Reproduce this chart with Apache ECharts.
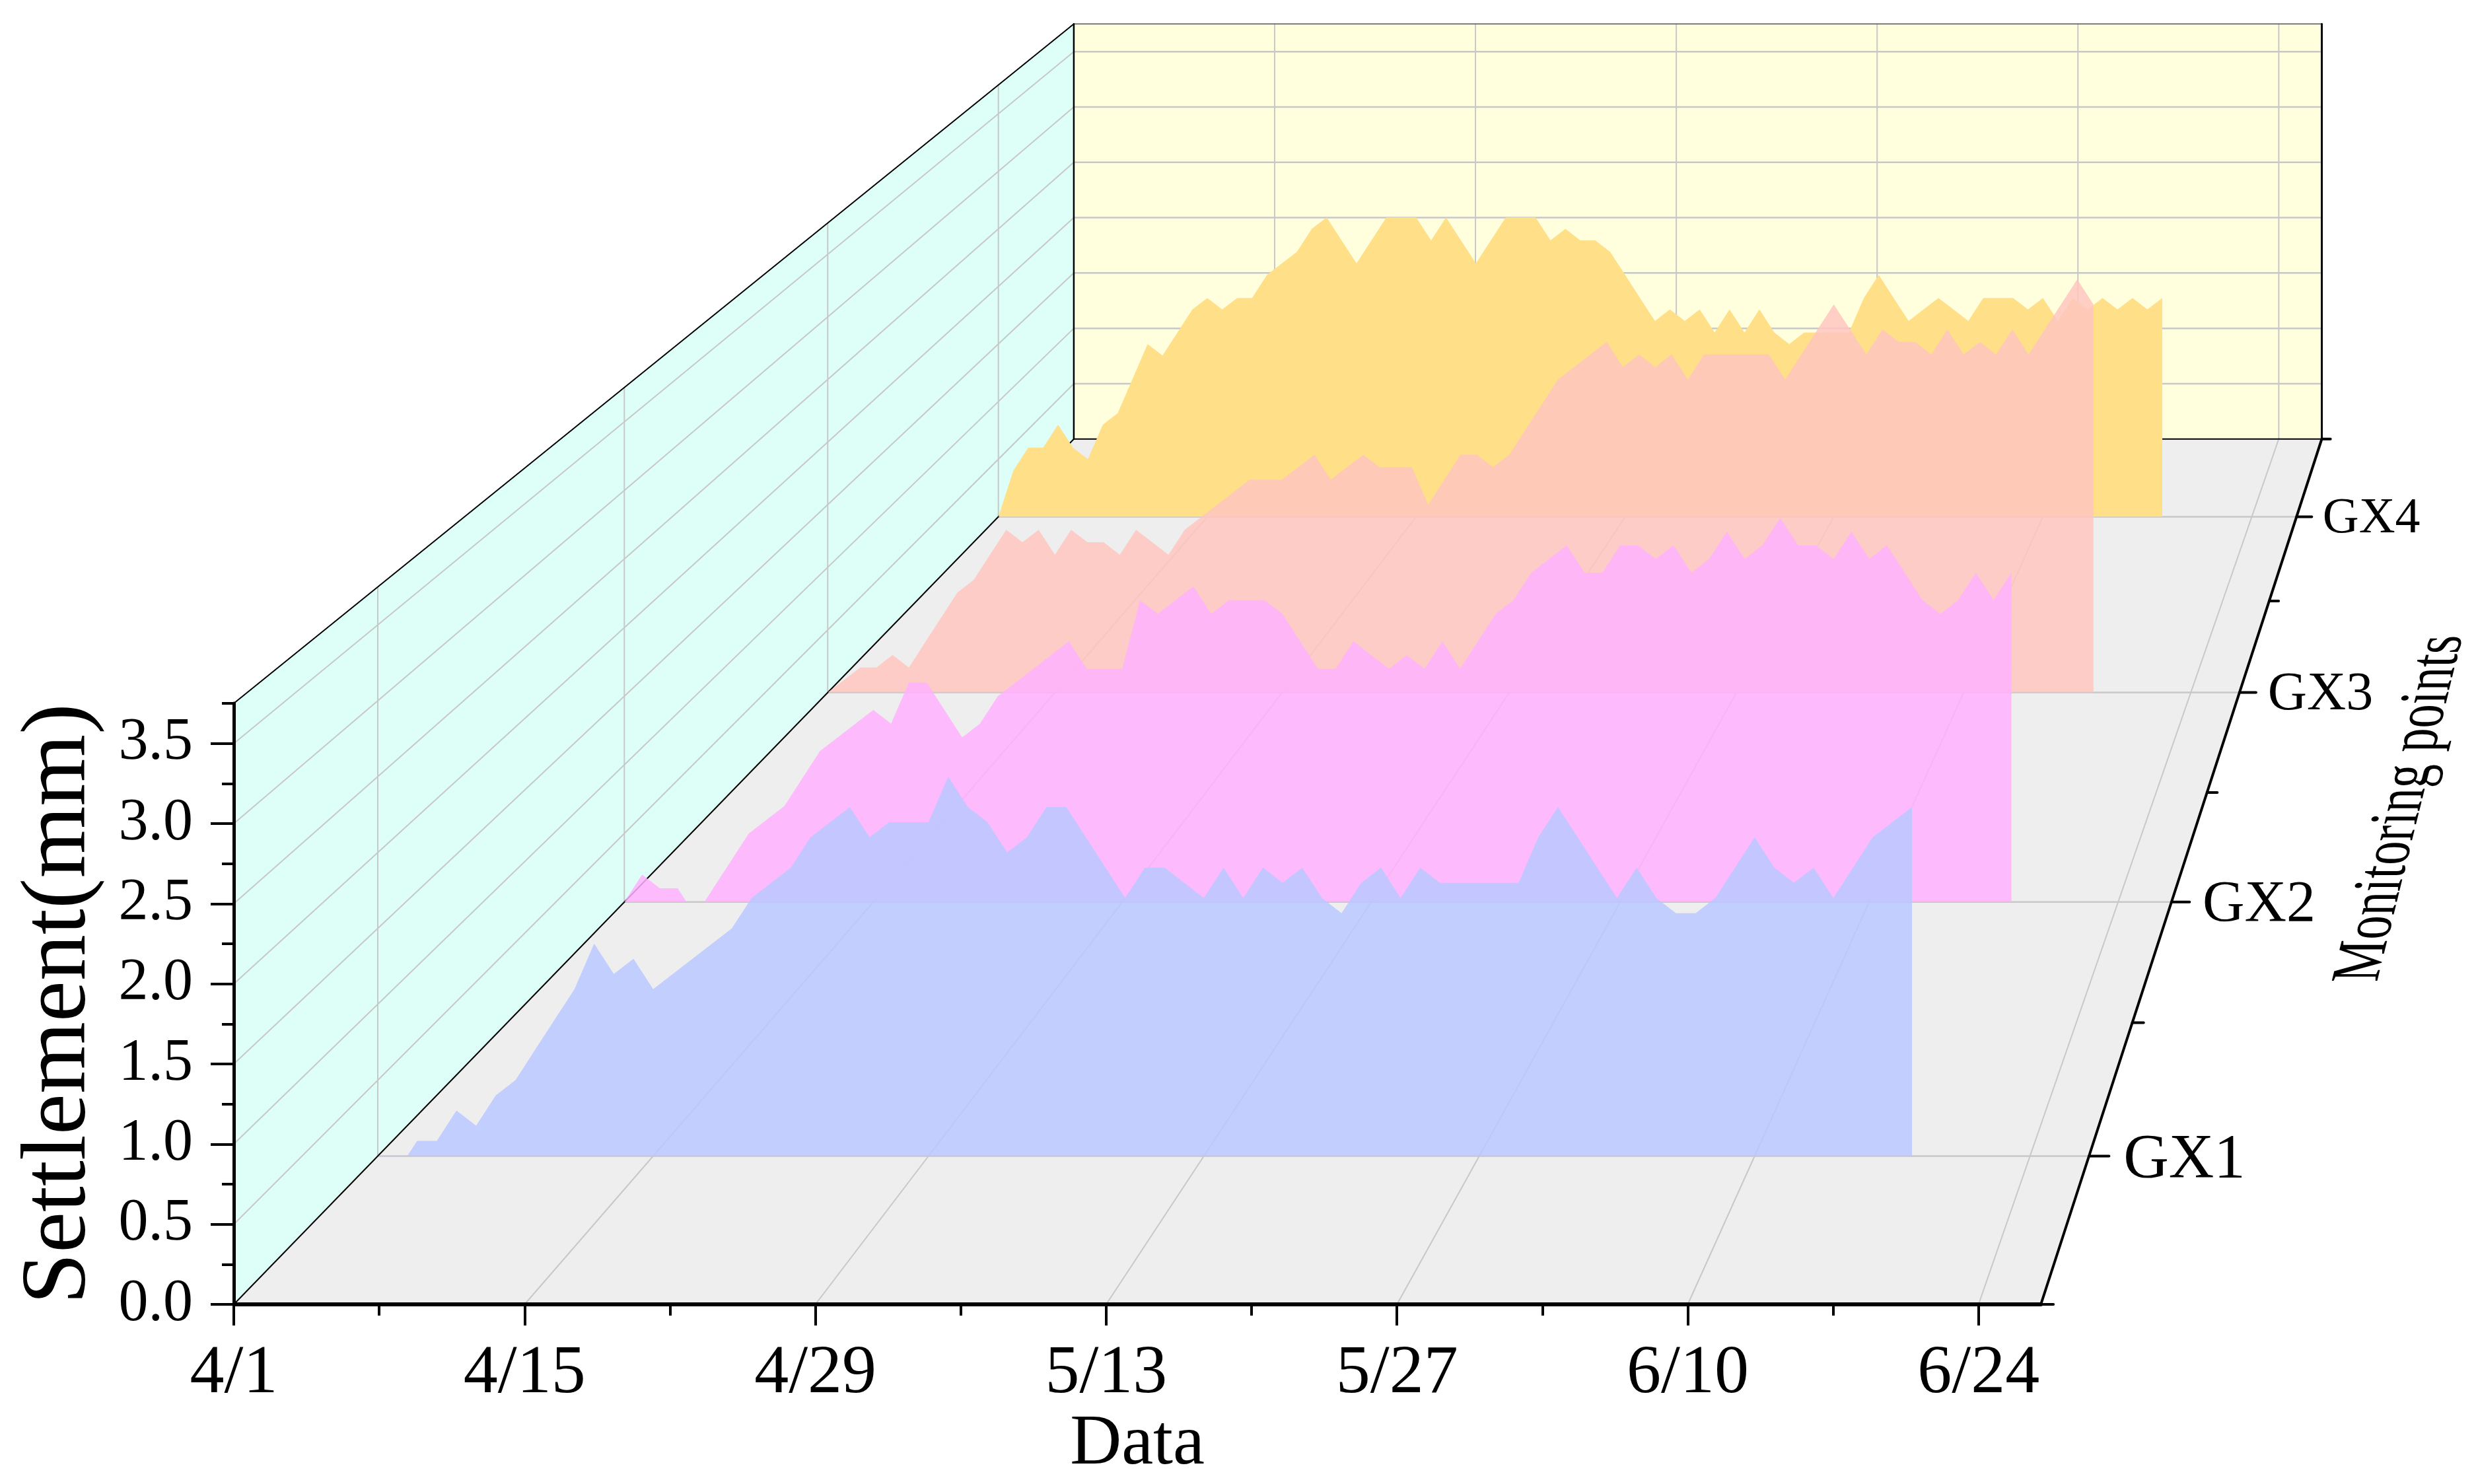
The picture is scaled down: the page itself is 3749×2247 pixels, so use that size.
<!DOCTYPE html>
<html>
<head>
<meta charset="utf-8">
<style>html,body{margin:0;padding:0;background:#fff}#c{width:3749px;height:2247px}</style>
<script src="https://cdn.jsdelivr.net/npm/echarts@6/dist/echarts.min.js"></script>
</head>
<body>
<div id="c"></div>
<script>
// ---- data (settlement in mm, one value a day from 4/1) ----
var dateLabels = ['4/1','4/15','4/29','5/13','5/27','6/10','6/24'];
var dateTicks = [0,14,28,42,56,70,84];
var dateMinorTicks = [7,21,35,49,63,77];
var yTicks = [0,0.5,1,1.5,2,2.5,3,3.5];
var yMinorTicks = [0.25,0.75,1.25,1.75,2.25,2.75,3.25,3.75];
var pointNames = ['GX1','GX2','GX3','GX4'];
var gx1 = [-0.1,-0.1,0.1,0.1,0.3,0.2,0.4,0.5,0.7,0.9,1.1,1.4,1.2,1.3,1.1,1.2,1.3,1.4,1.5,1.7,
 1.8,1.9,2.1,2.2,2.3,2.1,2.2,2.2,2.2,2.5,2.3,2.2,2.0,2.1,2.3,2.3,2.1,1.9,1.7,1.9,
 1.9,1.8,1.7,1.9,1.7,1.9,1.8,1.9,1.7,1.6,1.8,1.9,1.7,1.9,1.8,1.8,1.8,1.8,1.8,2.1,
 2.3,2.1,1.9,1.7,1.9,1.7,1.6,1.6,1.7,1.9,2.1,1.9,1.8,1.9,1.7,1.9,2.1,2.2,2.3];
var gx2 = [0,0.2,0.1,0.1,-0.1,0.1,0.3,0.5,0.6,0.7,0.9,1.1,1.2,1.3,1.4,1.3,1.6,1.6,1.4,1.2,
 1.3,1.5,1.6,1.7,1.8,1.9,1.7,1.7,1.7,2.2,2.1,2.2,2.3,2.1,2.2,2.2,2.2,2.1,1.9,1.7,
 1.7,1.9,1.8,1.7,1.8,1.7,1.9,1.7,1.9,2.1,2.2,2.4,2.5,2.6,2.4,2.4,2.6,2.6,2.5,2.6,
 2.4,2.5,2.7,2.5,2.6,2.8,2.6,2.6,2.5,2.7,2.5,2.6,2.4,2.2,2.1,2.2,2.4,2.2,2.4];
var gx3 = [0,0.1,0.2,0.2,0.3,0.2,0.4,0.6,0.8,0.9,1.1,1.3,1.2,1.3,1.1,1.3,1.2,1.2,1.1,1.3,
 1.2,1.1,1.3,1.4,1.5,1.6,1.7,1.7,1.7,1.8,1.9,1.7,1.8,1.9,1.8,1.8,1.8,1.5,1.7,1.9,
 1.9,1.8,1.9,2.1,2.3,2.5,2.6,2.7,2.8,2.6,2.7,2.6,2.7,2.5,2.7,2.7,2.7,2.7,2.7,2.5,
 2.7,2.9,3.1,2.9,2.7,2.9,2.8,2.8,2.7,2.9,2.7,2.8,2.7,2.9,2.7,2.9,3.1,3.3,3.1];
var gx4 = [0,0.4,0.6,0.6,0.8,0.6,0.5,0.8,0.9,1.2,1.5,1.4,1.6,1.8,1.9,1.8,1.9,1.9,2.1,2.2,
 2.3,2.5,2.6,2.4,2.2,2.4,2.6,2.6,2.6,2.4,2.6,2.4,2.2,2.4,2.6,2.6,2.6,2.4,2.5,2.4,
 2.4,2.3,2.1,1.9,1.7,1.8,1.7,1.8,1.6,1.8,1.6,1.8,1.6,1.5,1.6,1.6,1.6,1.6,1.9,2.1,
 1.9,1.7,1.8,1.9,1.8,1.7,1.9,1.9,1.9,1.8,1.9,1.7,1.9,1.8,1.9,1.8,1.9,1.8,1.9];

// ---- look ----
var FONT = '"Liberation Serif","Times New Roman",serif';
var GRID = '#c8c8c8';
var seriesColors = ['#bac8ff','#ffb2ff','#ffc6c0','#ffdf88'];
var seriesOpacity = [0.85,0.85,0.85,1];
var labelSizes = [95,88,82,76];
var labelNudge = [8,5,4,4];

// ---- perspective of the box: front plane sits at z=0.5, back plane at z=4.5 ----
var ox = 354, oy = 1975, pxDay = 31.45, pxMm = 242.66;
var vx = 4465, vy = -2260, kz = 0.112;
var dayMax = 87, mmMax = 3.75, zFront = 0.5, zBack = 4.5;
function scaleAt(z){ return 1/(1+kz*(z-zFront)); }
function P(day,mm,z){
  var s = scaleAt(z);
  return [vx+(ox+pxDay*day-vx)*s, vy+(oy-pxMm*mm-vy)*s];
}

var graphics = [];
function poly(pts,fill){ graphics.push({type:'polygon',silent:true,z:0,shape:{points:pts},style:{fill:fill}}); }
function line(a,b,color,w){ graphics.push({type:'line',silent:true,z:1,shape:{x1:a[0],y1:a[1],x2:b[0],y2:b[1]},style:{stroke:color,lineWidth:w,lineCap:'round'}}); }

poly([P(0,0,zFront),P(dayMax,0,zFront),P(dayMax,0,zBack),P(0,0,zBack)],'#eeeeee');
poly([P(0,0,zFront),P(0,mmMax,zFront),P(0,mmMax,zBack),P(0,0,zBack)],'#ddfff7');
poly([P(0,0,zBack),P(dayMax,0,zBack),P(dayMax,mmMax,zBack),P(0,mmMax,zBack)],'#ffffdd');

dateTicks.slice(1).forEach(function(d){
  line(P(d,0,zFront),P(d,0,zBack),GRID,2);
  line(P(d,0,zBack),P(d,mmMax,zBack),GRID,2);
});
yTicks.slice(1).forEach(function(v){
  line(P(0,v,zFront),P(0,v,zBack),GRID,2);
  line(P(0,v,zBack),P(dayMax,v,zBack),GRID,2.5);
});
pointNames.forEach(function(n,i){
  var z = i+1;
  line(P(0,0,z),P(dayMax,0,z),GRID,2.5);
  line(P(0,0,z),P(0,mmMax,z),GRID,2);
});
// box edges
line(P(0,0,zFront),P(0,0,zBack),'#000',2);
line(P(0,mmMax,zFront),P(0,mmMax,zBack),'#000',2);
line(P(0,mmMax,zBack),P(dayMax,mmMax,zBack),'#555',1.5);
line(P(0,0,zBack),P(0,mmMax,zBack),'#000',2.5);
line(P(0,0,zBack),P(dayMax,0,zBack),'#000',2);
line(P(dayMax,0,zBack),P(dayMax,mmMax,zBack),'#000',3);
// monitoring-point axis
line(P(dayMax,0,zFront),P(dayMax,0,zBack),'#000',4);
[0.5,1.5,2.5,3.5,4.5].forEach(function(z){
  var p = P(dayMax,0,z);
  line(p,[p[0]+19*scaleAt(z),p[1]],'#000',4);
});
pointNames.forEach(function(n,i){
  var z = i+1, p = P(dayMax,0,z), s = scaleAt(z);
  line(p,[p[0]+32*s,p[1]],'#000',4);
  graphics.push({type:'text',silent:true,z:1,style:{text:n,x:p[0]+55*s,y:p[1]+labelNudge[i],
    font:labelSizes[i]+'px '+FONT,fill:'#000',textAlign:'left',textVerticalAlign:'middle'}});
});
graphics.push({type:'text',silent:true,z:1,x:3624,y:1487,rotation:Math.PI/2,skewY:-0.242,scaleX:0.69,scaleY:1,
  style:{text:'Monitoring points',x:0,y:0,font:'105px '+FONT,fill:'#000',textAlign:'left',textVerticalAlign:'bottom'}});

// ---- grids: grid 0 carries the front axes, one grid per depth plane for each ribbon ----
function planeGrid(z){
  var a = P(0,mmMax,z), b = P(dayMax,0,z);
  return {left:a[0],top:a[1],width:b[0]-a[0],height:b[1]-a[1],containLabel:false};
}
var grids = [planeGrid(zFront)];
var xAxes = [
 {type:'value',gridIndex:0,min:0,max:dayMax,position:'bottom',z:5,splitLine:{show:false},
  axisLine:{show:true,onZero:false,lineStyle:{color:'#000',width:6}},
  axisTick:{show:true,length:32,customValues:dateTicks,lineStyle:{color:'#000',width:4}},
  axisLabel:{show:true,customValues:dateTicks,margin:54,color:'#000',fontFamily:FONT,fontSize:104,
    formatter:function(v){return dateLabels[dateTicks.indexOf(v)];}},
  name:'Data',nameLocation:'middle',nameGap:153,nameTextStyle:{color:'#000',fontFamily:FONT,fontSize:108}},
 {type:'value',gridIndex:0,min:0,max:dayMax,position:'bottom',z:5,splitLine:{show:false},
  axisLine:{show:false,onZero:false},axisLabel:{show:false},
  axisTick:{show:true,length:17,customValues:dateMinorTicks,lineStyle:{color:'#000',width:4}}}
];
var yAxes = [
 {type:'value',gridIndex:0,min:0,max:mmMax,position:'left',z:5,splitLine:{show:false},
  axisLine:{show:true,onZero:false,lineStyle:{color:'#000',width:5}},
  axisTick:{show:true,length:35,customValues:yTicks,lineStyle:{color:'#000',width:4}},
  axisLabel:{show:true,customValues:yTicks,margin:62,color:'#000',fontFamily:FONT,fontSize:90,padding:[5,0,0,0],
    formatter:function(v){return v.toFixed(1);}},
  name:'Settlement(mm)',nameLocation:'middle',nameRotate:90,nameGap:193,nameTextStyle:{color:'#000',fontFamily:FONT,fontSize:140}},
 {type:'value',gridIndex:0,min:0,max:mmMax,position:'left',z:5,splitLine:{show:false},
  axisLine:{show:false,onZero:false},axisLabel:{show:false},
  axisTick:{show:true,length:18,customValues:yMinorTicks,lineStyle:{color:'#000',width:4}}}
];
var seriesValues = [gx4,gx3,gx2,gx1];
var series = [];
seriesValues.forEach(function(vals,k){
  var i = 3-k, gi = grids.length;
  grids.push(planeGrid(i+1));
  xAxes.push({type:'value',gridIndex:gi,min:0,max:dayMax,show:false});
  yAxes.push({type:'value',gridIndex:gi,min:0,max:mmMax,show:false});
  series.push({type:'line',name:pointNames[i],xAxisIndex:xAxes.length-1,yAxisIndex:yAxes.length-1,
    showSymbol:false,symbol:'none',clip:true,silent:true,z:2+k*0.01,
    lineStyle:{width:0},areaStyle:{color:seriesColors[i],opacity:seriesOpacity[i],origin:'start'},
    data:vals.map(function(v,d){return [d,v];})});
});

var chart = echarts.init(document.getElementById('c'),null,{renderer:'canvas',width:3749,height:2247});
chart.setOption({backgroundColor:'#fff',animation:false,grid:grids,xAxis:xAxes,yAxis:yAxes,series:series,graphic:{elements:graphics}});
</script>
</body>
</html>
